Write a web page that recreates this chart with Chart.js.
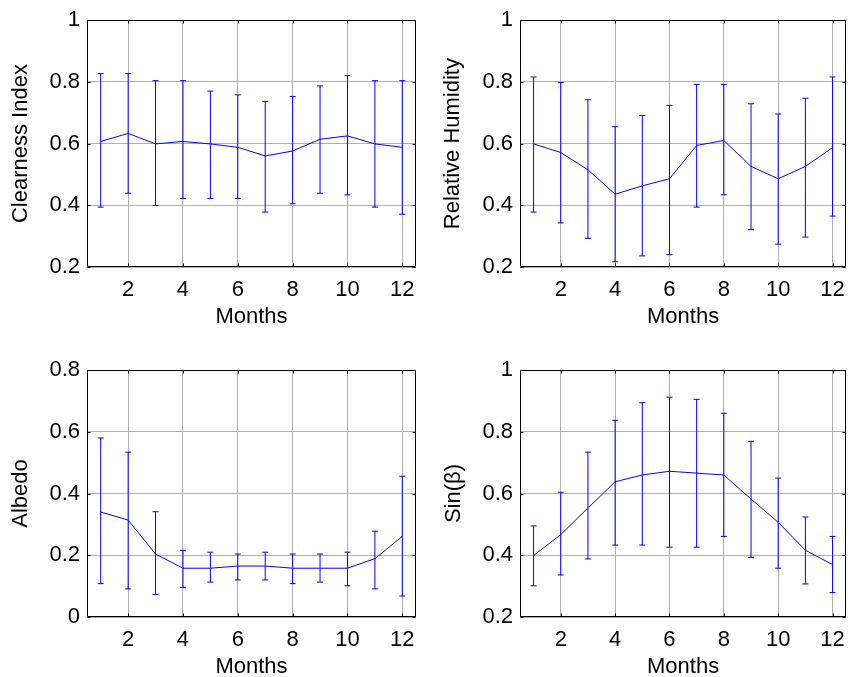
<!DOCTYPE html>
<html>
<head>
<meta charset="utf-8">
<script src="https://cdn.jsdelivr.net/npm/chart.js@4"></script>
<style>
  html, body { margin: 0; padding: 0; background: #fff; overflow: hidden; }
  body { width: 850px; height: 677px; position: relative; }
  canvas { position: absolute; }
</style>
</head>
<body>
<canvas id="c1" width="425" height="340" style="left:0;top:0"></canvas>
<canvas id="c2" width="430" height="340" style="left:425px;top:0"></canvas>
<canvas id="c3" width="425" height="345" style="left:0;top:340px"></canvas>
<canvas id="c4" width="430" height="345" style="left:425px;top:340px"></canvas>
<script>
// data
const months = [1, 2, 3, 4, 5, 6, 7, 8, 9, 10, 11, 12];
const xTicks = [2, 4, 6, 8, 10, 12];

const clearMean = [0.607, 0.633, 0.599, 0.607, 0.599, 0.588, 0.560, 0.576, 0.614, 0.625, 0.599, 0.588];
const clearLow  = [0.394, 0.439, 0.399, 0.422, 0.422, 0.422, 0.378, 0.405, 0.439, 0.434, 0.394, 0.371];
const clearHigh = [0.827, 0.827, 0.804, 0.804, 0.770, 0.758, 0.737, 0.753, 0.787, 0.820, 0.804, 0.804];

const rhMean = [0.599, 0.571, 0.515, 0.436, 0.463, 0.486, 0.594, 0.610, 0.526, 0.486, 0.526, 0.587];
const rhLow  = [0.378, 0.343, 0.293, 0.217, 0.236, 0.240, 0.394, 0.434, 0.321, 0.274, 0.297, 0.365];
const rhHigh = [0.816, 0.798, 0.742, 0.655, 0.691, 0.724, 0.792, 0.792, 0.729, 0.696, 0.747, 0.816];

const albMean = [0.340, 0.314, 0.204, 0.158, 0.158, 0.165, 0.165, 0.158, 0.158, 0.158, 0.189, 0.261];
const albLow  = [0.108, 0.091, 0.073, 0.096, 0.113, 0.120, 0.120, 0.108, 0.113, 0.101, 0.091, 0.068];
const albHigh = [0.580, 0.534, 0.341, 0.216, 0.210, 0.204, 0.210, 0.204, 0.204, 0.210, 0.278, 0.456];

const sinMean = [0.399, 0.467, 0.553, 0.638, 0.660, 0.672, 0.666, 0.660, 0.582, 0.507, 0.416, 0.370];
const sinLow  = [0.301, 0.336, 0.388, 0.433, 0.433, 0.426, 0.426, 0.461, 0.393, 0.358, 0.307, 0.279];
const sinHigh = [0.495, 0.604, 0.734, 0.837, 0.894, 0.912, 0.905, 0.860, 0.769, 0.650, 0.524, 0.461];

const yTicksA = [0.2, 0.4, 0.6, 0.8, 1];
const yTicksB = [0, 0.2, 0.4, 0.6, 0.8];

const BLUE = '#0000ff';
const FONT = { family: '"Liberation Sans", Arial, sans-serif', size: 22 };

// black box + little inward ticks, matlab style
const boxPlugin = {
  id: 'box',
  afterDraw(chart) {
    const { ctx, chartArea: a, scales: { x, y } } = chart;
    ctx.save();
    ctx.strokeStyle = '#000';
    ctx.lineWidth = 1;
    ctx.beginPath();
    const L = Math.round(a.left) + 0.5, R = Math.round(a.right) - 0.5;
    const T = Math.round(a.top) + 0.5, B = Math.round(a.bottom) - 0.5;
    ctx.rect(L, T, R - L, B - T);
    x.ticks.forEach(t => {
      const px = Math.round(x.getPixelForValue(t.value)) + 0.5;
      ctx.moveTo(px, B); ctx.lineTo(px, B - 3);
      ctx.moveTo(px, T); ctx.lineTo(px, T + 3);
    });
    y.ticks.forEach(t => {
      const py = Math.round(y.getPixelForValue(t.value)) + 0.5;
      ctx.moveTo(L, py); ctx.lineTo(L + 3, py);
      ctx.moveTo(R, py); ctx.lineTo(R - 3, py);
    });
    ctx.stroke();
    ctx.restore();
  }
};

function makeChart(id, yLabel, yMin, yMax, yTicks, mean, low, high, area, titlePad) {
  const canvas = document.getElementById(id);
  const W = canvas.width, H = canvas.height;

  // vertical error bar lines, broken with nulls
  const bars = [];
  months.forEach((m, i) => {
    bars.push({ x: m, y: low[i] }, { x: m, y: high[i] }, { x: m, y: null });
  });
  const caps = [];
  months.forEach((m, i) => {
    caps.push({ x: m, y: low[i] }, { x: m, y: high[i] });
  });

  return new Chart(canvas.getContext('2d'), {
    type: 'line',
    data: {
      datasets: [
        {
          data: bars, borderColor: BLUE, borderWidth: 1, pointRadius: 0,
          spanGaps: false, tension: 0
        },
        {
          data: caps, showLine: false, pointStyle: 'line', pointRadius: 3,
          pointBorderColor: BLUE, pointBorderWidth: 1, borderColor: BLUE
        },
        {
          data: months.map((m, i) => ({ x: m, y: mean[i] })),
          borderColor: BLUE, borderWidth: 1, pointRadius: 0, tension: 0
        }
      ]
    },
    options: {
      responsive: false,
      animation: false,
      events: [],
      layout: { padding: { left: 0, top: area.top, right: W - area.right, bottom: 0 } },
      plugins: { legend: { display: false }, tooltip: { enabled: false } },
      scales: {
        x: {
          type: 'linear', min: 0.5, max: 12.5,
          afterBuildTicks: s => { s.ticks = xTicks.map(v => ({ value: v })); },
          afterFit: s => { s.height = H - area.bottom; },
          grid: { color: '#b0b0b0', lineWidth: 1, drawTicks: false },
          border: { display: false },
          ticks: { color: '#000', font: FONT, padding: 10, maxRotation: 0, autoSkip: false,
                   callback: v => String(v) },
          title: { display: true, text: 'Months', color: '#000', font: FONT,
                   padding: { top: 0, bottom: titlePad.x } }
        },
        y: {
          min: yMin, max: yMax,
          afterBuildTicks: s => { s.ticks = yTicks.map(v => ({ value: v })); },
          afterFit: s => { s.width = area.left; },
          grid: { color: '#b0b0b0', lineWidth: 1, drawTicks: false },
          border: { display: false },
          ticks: { color: '#000', font: FONT, padding: 7,
                   callback: v => String(+v.toFixed(2)) },
          title: { display: true, text: yLabel, color: '#000', font: FONT,
                   padding: { top: titlePad.y, bottom: 0 } }
        }
      }
    },
    plugins: [boxPlugin]
  });
}

makeChart('c1', 'Clearness Index', 0.2, 1, yTicksA, clearMean, clearLow, clearHigh,
  { left: 87, top: 20, right: 416, bottom: 267 }, { x: 9.5, y: 7.5 });
makeChart('c2', 'Relative Humidity', 0.2, 1, yTicksA, rhMean, rhLow, rhHigh,
  { left: 95, top: 20, right: 426, bottom: 267 }, { x: 9.5, y: 14.5 });
makeChart('c3', 'Albedo', 0, 0.8, yTicksB, albMean, albLow, albHigh,
  { left: 87, top: 30, right: 416, bottom: 277 }, { x: 4.5, y: 7.5 });
makeChart('c4', 'Sin(β)', 0.2, 1, yTicksA, sinMean, sinLow, sinHigh,
  { left: 95, top: 30, right: 426, bottom: 277 }, { x: 4.5, y: 15.5 });
</script>
</body>
</html>
